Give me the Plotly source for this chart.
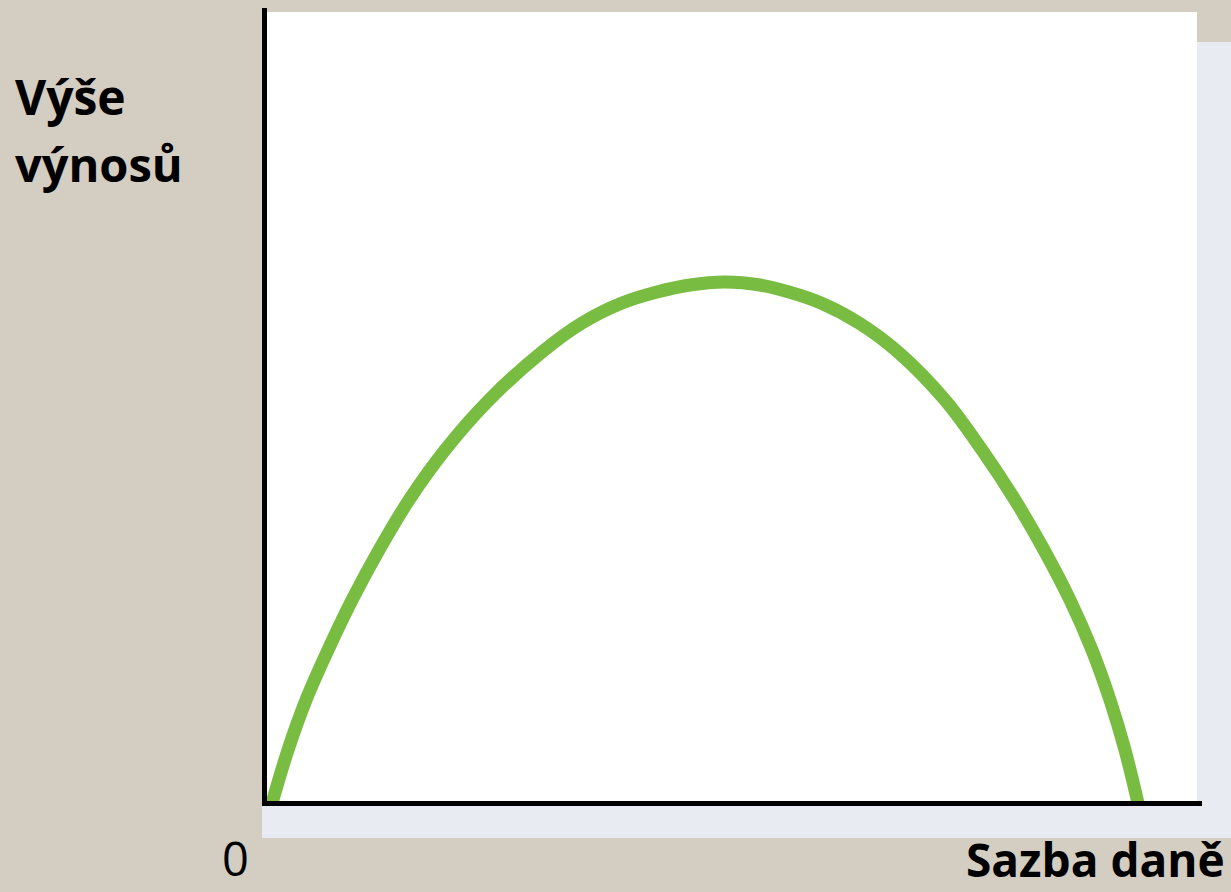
import plotly.graph_objects as go

# Laffer curve (arbitrary units)
tax_rate = [8, 24, 42, 64, 88, 115, 145, 181, 225, 278, 318, 358, 393, 426, 461,
            496, 525, 557, 595, 634, 681, 718, 751, 780, 806, 828, 846, 861, 874]
revenue = [0, 53, 103, 153, 203, 253, 303, 353, 403, 451, 480, 500, 511, 518, 521,
           518, 511, 500, 480, 451, 403, 353, 303, 253, 203, 153, 103, 53, 0]

y_label_lines = ["Výše", "výnosů"]
x_label = "Sazba daně"
origin_label = "0"

W, H = 1231, 892
L, R, T, B = 264, 31, 12, 89
PW, PH = W - L - R, H - T - B


def px(x):
    return (x - L) / PW


def py(y):
    return (H - B - y) / PH


BG = "#d4cdc1"
FONT = "Open Sans"

fig = go.Figure()
fig.add_trace(go.Scatter(
    x=tax_rate, y=revenue, mode="lines",
    line=dict(color="#78bc42", width=13, shape="spline", smoothing=1.0),
    hoverinfo="skip", showlegend=False,
))

shapes = [
    dict(type="rect", xref="paper", yref="paper", x0=px(262), x1=px(1231), y0=py(838), y1=py(42),
         fillcolor="#e9ebf2", line=dict(width=0), layer="below"),
    dict(type="rect", xref="paper", yref="paper", x0=px(262), x1=px(1197), y0=py(803), y1=py(12),
         fillcolor="white", line=dict(width=0), layer="below"),
    dict(type="line", xref="paper", yref="paper", x0=px(264.5), x1=px(264.5), y0=py(806), y1=py(8),
         line=dict(color="black", width=5), layer="above"),
    dict(type="line", xref="paper", yref="paper", x0=px(262), x1=px(1202), y0=py(803.5), y1=py(803.5),
         line=dict(color="black", width=5), layer="above"),
]

annotations = [
    dict(text="<b>" + y_label_lines[0] + "</b>", xref="paper", yref="paper",
         x=px(13), y=py(131), xanchor="left", yanchor="bottom", showarrow=False,
         font=dict(family=FONT, size=48, color="black")),
    dict(text="<b>" + y_label_lines[1] + "</b>", xref="paper", yref="paper",
         x=px(13), y=py(198), xanchor="left", yanchor="bottom", showarrow=False,
         font=dict(family=FONT, size=47, color="black")),
    dict(text=origin_label, xref="paper", yref="paper", x=px(235), y=py(892), xanchor="center",
         yanchor="bottom", showarrow=False, font=dict(family=FONT, size=47, color="black")),
    dict(text="<b>" + x_label + "</b>", xref="paper", yref="paper", x=px(1227), y=py(892),
         xanchor="right", yanchor="bottom", showarrow=False,
         font=dict(family=FONT, size=46, color="black")),
]

fig.update_layout(
    width=W, height=H,
    margin=dict(l=L, r=R, t=T, b=B, pad=0),
    paper_bgcolor=BG, plot_bgcolor="rgba(0,0,0,0)",
    xaxis=dict(range=[0, PW], visible=False, fixedrange=True),
    yaxis=dict(range=[0, PH], visible=False, fixedrange=True),
    shapes=shapes, annotations=annotations,
    showlegend=False,
)

fig.write_html(
    "out.html",
    config={"displayModeBar": False},
    post_script="document.body.style.margin='0';document.body.style.overflow='hidden';",
)
